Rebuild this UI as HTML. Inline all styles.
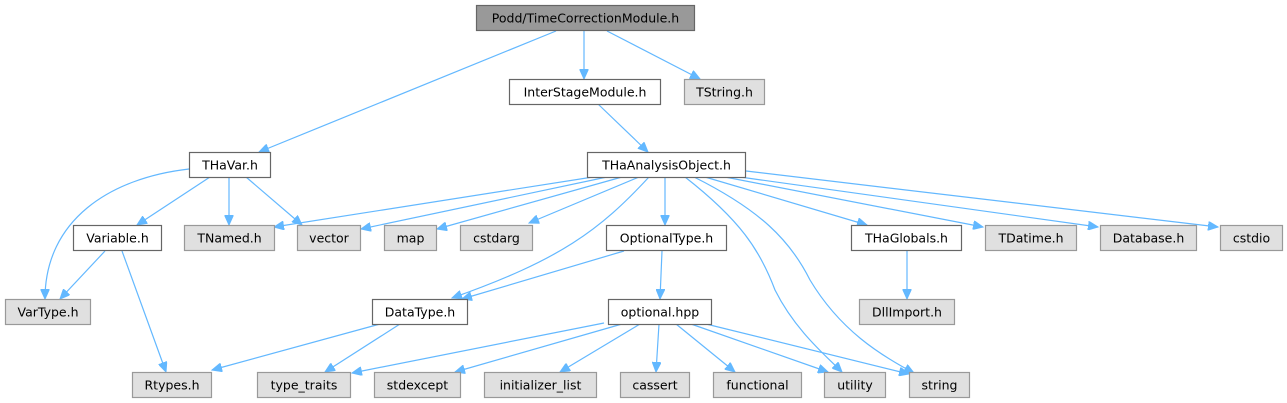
<!DOCTYPE html>
<html><head><meta charset="utf-8"><style>
html,body{margin:0;padding:0;background:#fff;width:1287px;height:403px;overflow:hidden}
svg text{font-family:"DejaVu Sans","Liberation Sans",sans-serif;font-size:12.5px;fill:#000}
</style></head><body>
<svg width="1287" height="403" viewBox="0 0 1287 403" xmlns="http://www.w3.org/2000/svg">
<defs>
<marker id="a" markerWidth="11" markerHeight="9" refX="10" refY="4.5" orient="auto" markerUnits="userSpaceOnUse">
<path d="M0,0 L10,4.5 L0,9 z" fill="#63b8ff" stroke="#63b8ff"/>
</marker>
</defs>
<g fill="none" stroke="#63b8ff" stroke-width="1.2" marker-end="url(#a)">
<path d="M556,31 L259,152"/>
<path d="M584,31 L584,79"/>
<path d="M607,31 L700,79"/>
<path d="M598,104 L648,152"/>
<path d="M189,169 C110,178 45,220 45,299"/>
<path d="M210,177 L137,225"/>
<path d="M229,177 L229,225"/>
<path d="M246,177 L302,225"/>
<path d="M105,251 L60,299"/>
<path d="M122,251 L166,372"/>
<path d="M593,177 L274,227"/>
<path d="M607,177 L361,229"/>
<path d="M622,177 L437,229"/>
<path d="M639,177 L529,223"/>
<path d="M649,177 C600,230 560,260 452,298"/>
<path d="M624,251 L462,299"/>
<path d="M665,177 L665,225"/>
<path d="M662,251 L660,299"/>
<path d="M685,177 C740,220 760,250 775,290 C795,330 825,355 842,372"/>
<path d="M694,177 C760,210 790,240 810,280 C840,330 880,355 914,373"/>
<path d="M705,177 L867,225"/>
<path d="M725,177 L983,227"/>
<path d="M740,177 L1098,227"/>
<path d="M746,171 L1218,227"/>
<path d="M907,251 L907,299"/>
<path d="M380,324 L212,370"/>
<path d="M400,324 L325,372"/>
<path d="M604,323 L352,373"/>
<path d="M622,324 L455,372"/>
<path d="M640,324 L560,372"/>
<path d="M659,324 L656,372"/>
<path d="M676,324 L735,372"/>
<path d="M691,324 L828,372"/>
<path d="M706,324 L909,374"/>
</g>
<g stroke-width="1.2">
<rect x="476.5" y="5.5" width="218" height="25" fill="#999" stroke="#666"/>
<rect x="509.5" y="79.5" width="151" height="25" fill="#fff" stroke="#666"/>
<rect x="684.5" y="79.5" width="80" height="25" fill="#e0e0e0" stroke="#999"/>
<rect x="189.5" y="152.5" width="81" height="25" fill="#fff" stroke="#666"/>
<rect x="587.5" y="152.5" width="158" height="25" fill="#fff" stroke="#666"/>
<rect x="73.5" y="225.5" width="88" height="25" fill="#fff" stroke="#666"/>
<rect x="184.5" y="225.5" width="90" height="25" fill="#e0e0e0" stroke="#999"/>
<rect x="297.5" y="225.5" width="63" height="25" fill="#e0e0e0" stroke="#999"/>
<rect x="384.5" y="225.5" width="52" height="25" fill="#e0e0e0" stroke="#999"/>
<rect x="460.5" y="225.5" width="72" height="25" fill="#e0e0e0" stroke="#999"/>
<rect x="606.5" y="225.5" width="120" height="25" fill="#fff" stroke="#666"/>
<rect x="851.5" y="225.5" width="110" height="25" fill="#fff" stroke="#666"/>
<rect x="985.5" y="225.5" width="91" height="25" fill="#e0e0e0" stroke="#999"/>
<rect x="1100.5" y="225.5" width="96" height="25" fill="#e0e0e0" stroke="#999"/>
<rect x="1220.5" y="225.5" width="62" height="25" fill="#e0e0e0" stroke="#999"/>
<rect x="5.5" y="299.5" width="85" height="25" fill="#e0e0e0" stroke="#999"/>
<rect x="372.5" y="299.5" width="95" height="25" fill="#fff" stroke="#666"/>
<rect x="608.5" y="299.5" width="103" height="25" fill="#fff" stroke="#666"/>
<rect x="859.5" y="299.5" width="95" height="25" fill="#e0e0e0" stroke="#999"/>
<rect x="132.5" y="372.5" width="79" height="25" fill="#e0e0e0" stroke="#999"/>
<rect x="257.5" y="372.5" width="93" height="25" fill="#e0e0e0" stroke="#999"/>
<rect x="374.5" y="372.5" width="86" height="25" fill="#e0e0e0" stroke="#999"/>
<rect x="484.5" y="372.5" width="112" height="25" fill="#e0e0e0" stroke="#999"/>
<rect x="620.5" y="372.5" width="69" height="25" fill="#e0e0e0" stroke="#999"/>
<rect x="713.5" y="372.5" width="88" height="25" fill="#e0e0e0" stroke="#999"/>
<rect x="824.5" y="372.5" width="61" height="25" fill="#e0e0e0" stroke="#999"/>
<rect x="909.5" y="372.5" width="60" height="25" fill="#e0e0e0" stroke="#999"/>
</g>
<g text-anchor="middle">
<text x="585.5" y="22.5">Podd/TimeCorrectionModule.h</text>
<text x="585" y="96.5">InterStageModule.h</text>
<text x="724.5" y="96.5">TString.h</text>
<text x="230" y="169.5">THaVar.h</text>
<text x="666.5" y="169.5">THaAnalysisObject.h</text>
<text x="117.5" y="242.5">Variable.h</text>
<text x="229.5" y="242.5">TNamed.h</text>
<text x="329" y="242.5">vector</text>
<text x="410.5" y="242.5">map</text>
<text x="496.5" y="242.5">cstdarg</text>
<text x="666.5" y="242.5">OptionalType.h</text>
<text x="906.5" y="242.5">THaGlobals.h</text>
<text x="1031" y="242.5">TDatime.h</text>
<text x="1148.5" y="242.5">Database.h</text>
<text x="1251.5" y="242.5">cstdio</text>
<text x="48" y="316.5">VarType.h</text>
<text x="420" y="316.5">DataType.h</text>
<text x="660" y="316.5">optional.hpp</text>
<text x="907" y="316.5">DllImport.h</text>
<text x="172" y="389.5">Rtypes.h</text>
<text x="304" y="389.5">type_traits</text>
<text x="417.5" y="389.5">stdexcept</text>
<text x="540.5" y="389.5">initializer_list</text>
<text x="655" y="389.5">cassert</text>
<text x="757.5" y="389.5">functional</text>
<text x="855" y="389.5">utility</text>
<text x="939.5" y="389.5">string</text>
</g>
</svg>
</body></html>
